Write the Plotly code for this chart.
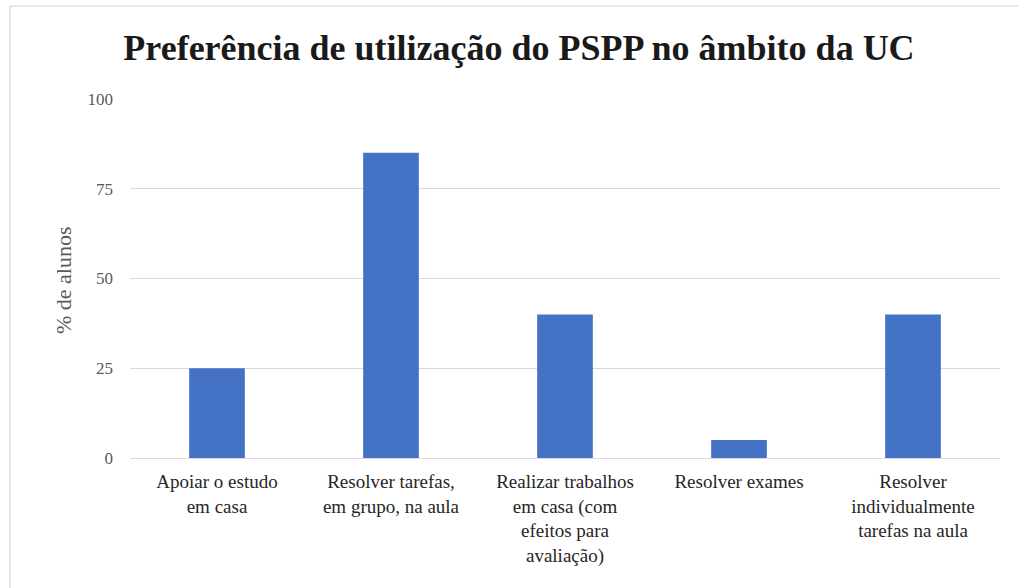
import plotly.graph_objects as go

categories = [
    "Apoiar o estudo<br>em casa",
    "Resolver tarefas,<br>em grupo, na aula",
    "Realizar trabalhos<br>em casa (com<br>efeitos para<br>avaliação)",
    "Resolver exames",
    "Resolver<br>individualmente<br>tarefas na aula",
]
values = [25, 85, 40, 5, 40]
y_ticks = [0, 25, 50, 75, 100]

W, H = 1018, 588
ML, MR, MT, MB = 130, 18, 99, 130
FAM = "Liberation Serif"

fig = go.Figure(go.Bar(
    x=categories, y=values,
    marker=dict(color="#4472C4", line=dict(width=0)),
    width=0.32,
))

pw = W - ML - MR
ph = H - MT - MB
def px(xp):
    return (xp - ML) / pw
def py(yp):
    return 1 - (yp - MT) / ph

fig.update_layout(
    width=W, height=H,
    margin=dict(l=ML, r=MR, t=MT, b=MB),
    paper_bgcolor="white", plot_bgcolor="white",
    font=dict(family=FAM, color="#404040"),
    title=dict(text="<b>Preferência de utilização do PSPP no âmbito da UC</b>",
               x=519 / W, xanchor="center", y=1 - 47 / H, yanchor="middle",
               font=dict(size=36, color="#1a1a1a", family=FAM)),
    showlegend=False,
    xaxis=dict(showgrid=False, showline=True, linecolor="#d9d9d9", linewidth=1,
               tickfont=dict(size=19, color="#262626", family=FAM), ticks="",
               ticklabelstandoff=6),
    yaxis=dict(range=[0, 100], tickvals=y_ticks, showgrid=True, gridcolor="#d9d9d9",
               gridwidth=1, zeroline=False, showline=False,
               tickfont=dict(size=17, color="#595959", family=FAM), ticks="",
               ticklabelstandoff=16),
    annotations=[
        dict(text="% de alunos", xref="paper", yref="paper", x=px(63), y=py(280),
             xanchor="center", yanchor="middle", textangle=-90, showarrow=False,
             font=dict(size=22, color="#595959", family=FAM)),
    ],
    shapes=[
        dict(type="line", xref="paper", yref="paper", x0=px(10), x1=px(1018), y0=py(6), y1=py(6),
             line=dict(color="#e0e0e0", width=1.5)),
        dict(type="line", xref="paper", yref="paper", x0=px(10), x1=px(10), y0=py(6), y1=py(588),
             line=dict(color="#e0e0e0", width=1.5)),
    ],
)

fig.write_html("out.html", config={"displayModeBar": False},
               post_script="document.body.style.margin='0';")
